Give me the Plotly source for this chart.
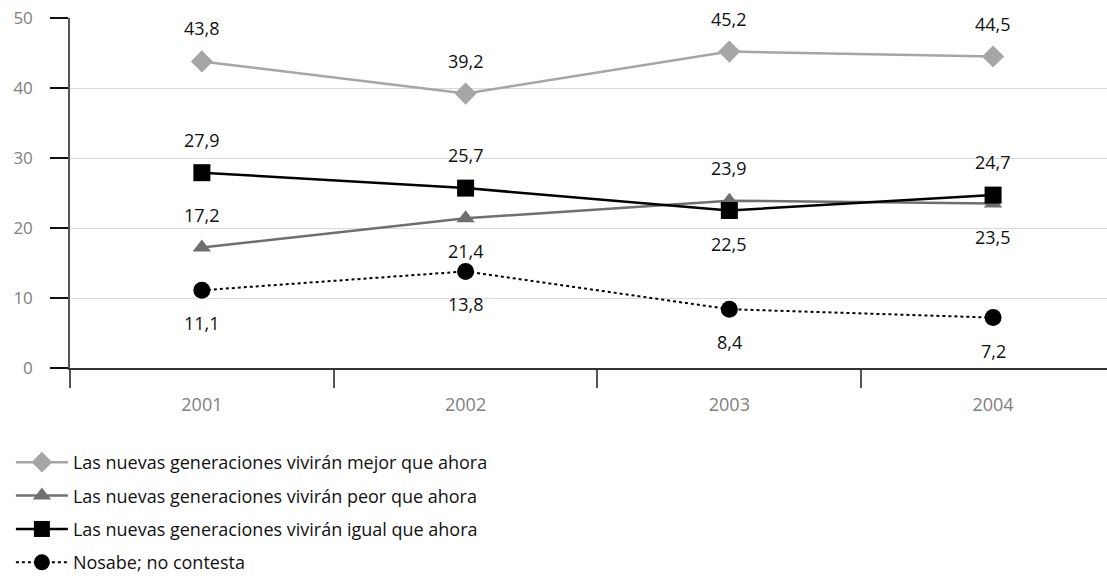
import plotly.graph_objects as go

years = ["2001", "2002", "2003", "2004"]
mejor = [43.8, 39.2, 45.2, 44.5]
peor = [17.2, 21.4, 23.9, 23.5]
igual = [27.9, 25.7, 22.5, 24.7]
nosabe = [11.1, 13.8, 8.4, 7.2]

names = [
    "Las nuevas generaciones vivirán mejor que ahora",
    "Las nuevas generaciones vivirán peor que ahora",
    "Las nuevas generaciones vivirán igual que ahora",
    "Nosabe; no contesta",
]
# label side for each point: +1 above, -1 below
sides_mejor = [1, 1, 1, 1]
sides_peor = [1, -1, 1, -1]
sides_igual = [1, 1, -1, 1]
sides_nosabe = [-1, -1, -1, -1]

FONT = "Open Sans"

fig = go.Figure()

series = [
    (mejor, names[0], "#a6a6a6", "diamond", 17, "solid", 2.5, sides_mejor),
    (peor, names[1], "#6f6f6f", "triangle-up", 16, "solid", 2.5, sides_peor),
    (igual, names[2], "#000000", "square", 17, "solid", 2.5, sides_igual),
    (nosabe, names[3], "#000000", "circle", 17, "dot", 2, sides_nosabe),
]

for i, (vals, name, color, sym, size, dash, width, sides) in enumerate(series):
    fig.add_trace(go.Scatter(
        x=years, y=vals, name=name, mode="lines+markers",
        line=dict(color=color, width=width, dash=dash),
        marker=dict(symbol=sym, size=size, color=color),
        legendgroup=f"g{i}",
    ))
    # value labels, placed by category index
    for k, (v, s) in enumerate(zip(vals, sides)):
        fig.add_annotation(
            x=k, y=v, text=f"{v:.1f}".replace(".", ","),
            showarrow=False, yshift=33 * s,
            font=dict(family=FONT, size=18, color="#111111"),
        )

fig.update_layout(
    width=1107, height=580,
    margin=dict(l=70, r=0, t=18, b=212, autoexpand=False),
    plot_bgcolor="white", paper_bgcolor="white",
    showlegend=True,
    legend=dict(
        x=-0.057, y=-0.217, xanchor="left", yanchor="top",
        font=dict(family=FONT, size=18, color="#111111"),
        tracegroupgap=7, itemwidth=52,
    ),
    xaxis=dict(
        type="category", range=[-0.5, 3.432],
        showline=True, linecolor="#333333", linewidth=1.5,
        ticks="outside", tickson="boundaries", ticklen=18,
        tickcolor="#555555", tickwidth=1.5, showgrid=False,
        tickfont=dict(family=FONT, size=18, color="#808080"),
        ticklabelstandoff=20,
    ),
    yaxis=dict(
        range=[0, 50], tickvals=[0, 10, 20, 30, 40, 50],
        showline=True, linecolor="#555555", linewidth=1.5,
        ticks="outside", ticklen=18, tickcolor="#111111", tickwidth=1.5,
        showgrid=True, gridcolor="#d9d9d9", gridwidth=1, zeroline=False,
        tickfont=dict(family=FONT, size=17, color="#808080"),
        ticklabelstandoff=14,
    ),
)

fig.write_html("out.html")
